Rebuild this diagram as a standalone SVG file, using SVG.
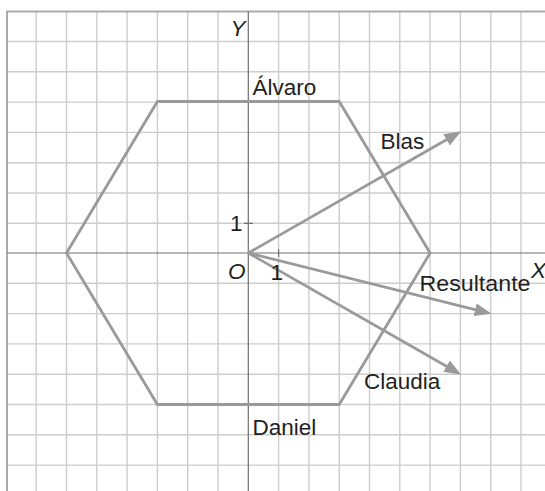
<svg xmlns="http://www.w3.org/2000/svg" width="545" height="491" viewBox="0 0 545 491">
<style>
.grid{stroke:#cdcdcd;stroke-width:1.4;fill:none}
.border{stroke:#ababab;stroke-width:2;fill:none}
.axis{stroke:#6e6e6e;stroke-width:1.2;fill:none}
.hex{stroke:#9a9a9a;stroke-width:2.8;fill:none;stroke-linejoin:miter}
.vec{stroke:#9a9a9a;stroke-width:2.8;fill:none;marker-end:url(#ah)}
text{font-family:"Liberation Sans",Arial,sans-serif;font-size:22.5px;fill:#231f20}
.it{font-style:italic}
</style>
<defs>
<marker id="ah" markerUnits="userSpaceOnUse" markerWidth="18" markerHeight="14" refX="6" refY="6.5" orient="auto" viewBox="0 0 18 13">
<path d="M0,0 L17,6.5 L0,13 z" fill="#9a9a9a"/>
</marker>
</defs>
<rect x="0" y="0" width="545" height="491" fill="#ffffff"/>
<g id="grid">
<path class="grid" d="M36.2,11.5V491 M66.5,11.5V491 M96.8,11.5V491 M127.1,11.5V491 M157.4,11.5V491 M187.7,11.5V491 M218,11.5V491 M278.6,11.5V491 M308.9,11.5V491 M339.2,11.5V491 M369.5,11.5V491 M399.8,11.5V491 M430.1,11.5V491 M460.4,11.5V491 M490.7,11.5V491 M521,11.5V491 M7,41.5H545 M7,71.8H545 M7,102.1H545 M7,132.4H545 M7,162.7H545 M7,193H545 M7,223.3H545 M7,283.3H545 M7,313.6H545 M7,343.9H545 M7,374.2H545 M7,404.5H545 M7,434.8H545 M7,465.1H545"/>
<path class="border" d="M7,491V11.5H545"/>
</g>
<g id="axes">
<path class="axis" d="M248.3,11.5V491 M7,253H545"/>
<path class="axis" d="M244,223.3H253 M278.6,249V257"/>
</g>
<g id="hexagon">
<polygon class="hex" points="66.5,253 157.4,101.5 339.2,101.5 430.1,253 339.2,404.5 157.4,404.5"/>
</g>
<g id="connectors">
<line id="blas-vec" class="vec" x1="248.3" y1="253" x2="451.7" y2="136.8"/>
<line id="resultante-vec" class="vec" x1="248.3" y1="253" x2="481" y2="311.2"/>
<line id="claudia-vec" class="vec" x1="248.3" y1="253" x2="451.7" y2="369.2"/>
</g>
<g id="labels">
<text class="it" x="230.5" y="36" font-size="21">Y</text>
<text class="it" x="531" y="278" font-size="19.5">X</text>
<text class="it" x="228" y="279" font-size="19.5">O</text>
<text x="230" y="231" font-size="20.5">1</text>
<text x="270.5" y="280" font-size="20.5">1</text>
<text x="252.5" y="95">Álvaro</text>
<text x="380.5" y="148.5">Blas</text>
<text x="419.5" y="291" textLength="111" lengthAdjust="spacingAndGlyphs">Resultante</text>
<text x="364" y="389">Claudia</text>
<text x="252.5" y="434.5">Daniel</text>
</g>
</svg>
